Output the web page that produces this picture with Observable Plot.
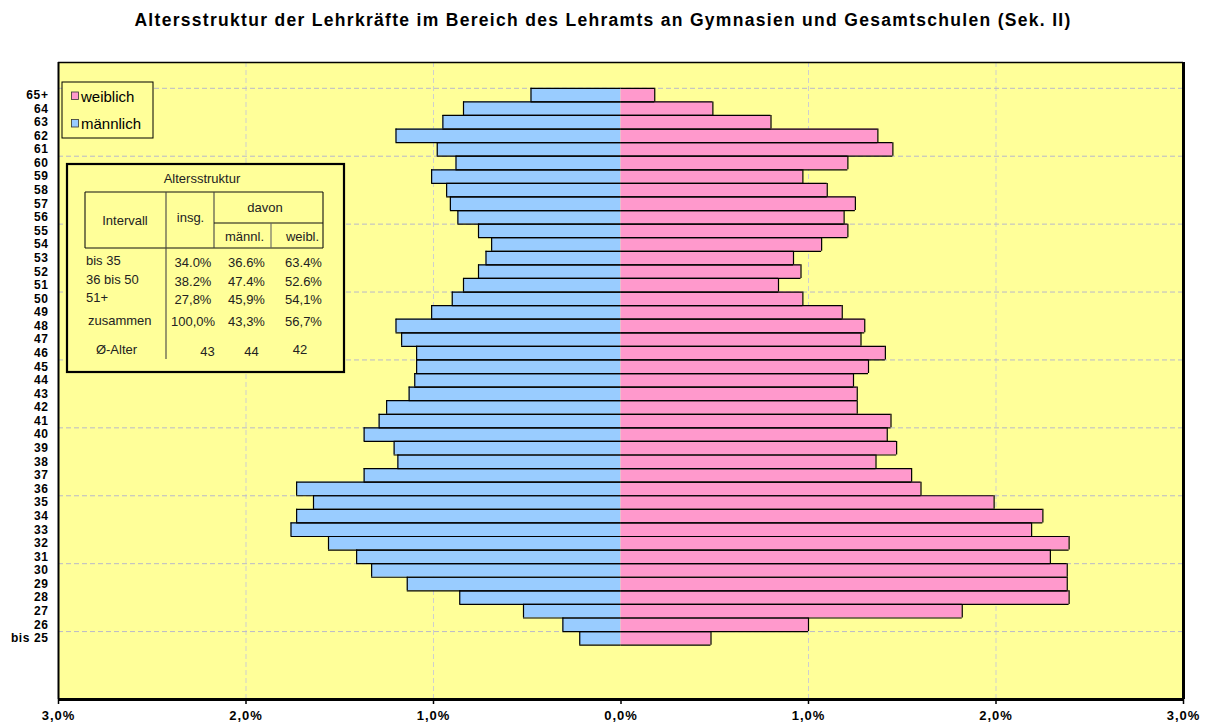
<!DOCTYPE html>
<html>
<head>
<meta charset="utf-8">
<script src="https://cdn.jsdelivr.net/npm/d3@7"></script>
<script src="https://cdn.jsdelivr.net/npm/@observablehq/plot@0.6"></script>
<style>
  body { margin: 0; background: #fff; font-family: Arial, "Liberation Sans", sans-serif; }
  #wrap { position: relative; width: 1206px; height: 724px; overflow: hidden; }
  #title { position: absolute; left: 0; top: 0; width: 1206px; height: 40px; line-height: 40px;
           text-align: center; font-weight: bold; font-size: 17.5px; letter-spacing: 1.3px; color: #000; }
  #chart { position: absolute; left: 0; top: 40px; }
</style>
</head>
<body>
<div id="wrap">
  <div id="title">Altersstruktur der Lehrkräfte im Bereich des Lehramts an Gymnasien und Gesamtschulen (Sek. II)</div>
  <div id="chart"></div>
</div>
<script>
// ---- Data (youngest first) ----
const ageLabels = ["bis 25","26","27","28","29","30","31","32","33","34","35","36","37","38","39","40",
  "41","42","43","44","45","46","47","48","49","50","51","52","53","54","55","56","57","58","59","60",
  "61","62","63","64","65+"];
// share of all teachers, in percent
const maleValues = [0.22,0.31,0.52,0.86,1.14,1.33,1.41,1.56,1.76,1.73,1.64,1.73,1.37,1.19,1.21,1.37,
  1.29,1.25,1.13,1.10,1.09,1.09,1.17,1.20,1.01,0.90,0.84,0.76,0.72,0.69,0.76,0.87,0.91,0.93,1.01,0.88,
  0.98,1.20,0.95,0.84,0.48];
const femaleValues = [0.48,1.00,1.82,2.39,2.38,2.38,2.29,2.39,2.19,2.25,1.99,1.60,1.55,1.36,1.47,1.42,
  1.44,1.26,1.26,1.24,1.32,1.41,1.28,1.30,1.18,0.97,0.84,0.96,0.92,1.07,1.21,1.19,1.25,1.10,0.97,1.21,
  1.45,1.37,0.80,0.49,0.18];
const xTicks = [-3,-2,-1,0,1,2,3];
const xGrid = [-2,-1,1,2];
const xDomain = [-3, 3];
const yDomain = [-4.5, 42.4];

const legendLabels = ["weiblich", "männlich"];
const tableTitle = "Altersstruktur";
const tableHeaders = ["Intervall", "insg.", "davon", "männl.", "weibl."];
const tableRowLabels = ["bis 35", "36 bis 50", "51+", "zusammen", "Ø-Alter"];
const tableInsg = ["34.0%", "38.2%", "27,8%", "100,0%", "43"];
const tableMaennl = ["36.6%", "47.4%", "45,9%", "43,3%", "44"];
const tableWeibl = ["63.4%", "52.6%", "54,1%", "56,7%", "42"];

const colors = { bg: "#FFFF99", male: "#99CCFF", female: "#FF99CC" };

const rows = ageLabels.map((label, i) => ({ label, pos: i, male: maleValues[i], female: femaleValues[i] }));
const hGrid = d3.range(0.5, ageLabels.length, 5);
const fmtPct = d => Math.abs(d).toFixed(1).replace(".", ",") + "%";

const edgeStyle = { stroke: "#000", strokeWidth: 1.2 };

const chart = Plot.plot({
  width: 1206,
  height: 684,
  marginTop: 22,
  marginBottom: 25,
  marginLeft: 58,
  marginRight: 23,
  style: { fontFamily: 'Arial, "Liberation Sans", sans-serif', background: "transparent" },
  x: { domain: xDomain },
  y: { domain: yDomain },
  marks: [
    Plot.frame({ fill: colors.bg }),
    Plot.ruleX(xGrid, { stroke: "#cfcfcf", strokeDasharray: "5,3", strokeWidth: 1 }),
    Plot.ruleY(hGrid, { stroke: "#b9b9c9", strokeDasharray: "5,3", strokeWidth: 1 }),
    // bars
    Plot.rect(rows, { x1: d => -d.male, x2: d => 0, y1: d => d.pos - 0.5, y2: d => d.pos + 0.5, fill: colors.male }),
    Plot.rect(rows, { x1: d => 0, x2: d => d.female, y1: d => d.pos - 0.5, y2: d => d.pos + 0.5, fill: colors.female }),
    // bar outlines (no line at the centre)
    Plot.ruleY(rows, { y: d => d.pos + 0.5, x1: d => -d.male, x2: d => 0, ...edgeStyle }),
    Plot.ruleY(rows, { y: d => d.pos - 0.5, x1: d => -d.male, x2: d => 0, ...edgeStyle }),
    Plot.ruleX(rows, { x: d => -d.male, y1: d => d.pos - 0.5, y2: d => d.pos + 0.5, ...edgeStyle }),
    Plot.ruleY(rows, { y: d => d.pos + 0.5, x1: d => 0, x2: d => d.female, ...edgeStyle }),
    Plot.ruleY(rows, { y: d => d.pos - 0.5, x1: d => 0, x2: d => d.female, ...edgeStyle }),
    Plot.ruleX(rows, { x: d => d.female, y1: d => d.pos - 0.5, y2: d => d.pos + 0.5, ...edgeStyle }),
    // plot border
    Plot.ruleY([yDomain[1]], { stroke: "#000", strokeWidth: 1.5 }),
    Plot.ruleX([xDomain[0]], { stroke: "#000", strokeWidth: 2 }),
    Plot.ruleX([xDomain[1]], { stroke: "#000", strokeWidth: 3 }),
    Plot.ruleY([yDomain[0]], { stroke: "#000", strokeWidth: 3 }),
    // axes
    Plot.axisX({ ticks: xTicks, tickFormat: fmtPct, tickSize: 5, tickPadding: 6, fontSize: 13,
      fontWeight: "bold", label: null, stroke: "#000", strokeWidth: 1.5 }),
    Plot.axisY({ ticks: d3.range(ageLabels.length), tickFormat: i => ageLabels[i], tickSize: 0,
      tickPadding: 10, fontSize: 12, fontWeight: "bold", label: null })
  ]
});
document.getElementById("chart").append(chart);

const svg = d3.select(chart);
svg.selectAll('g[aria-label="x-axis tick label"] text').attr("letter-spacing", "1px");
svg.selectAll('g[aria-label="y-axis tick label"] text').attr("letter-spacing", "0.6px");

// ---- Legend and summary table (annotations inside the plot area) ----
const OY = 40; // page offset of the svg
const g = svg.append("g").attr("font-family", 'Arial, "Liberation Sans", sans-serif')
  .attr("text-anchor", "start");

// legend
const lg = g.append("g");
lg.append("rect").attr("x", 62).attr("y", 82 - OY).attr("width", 91).attr("height", 56)
  .attr("fill", colors.bg).attr("stroke", "#000").attr("stroke-width", 1);
[colors.female, colors.male].forEach((c, i) => {
  const yy = 92 - OY + i * 27.5;
  lg.append("rect").attr("x", 71.5).attr("y", yy).attr("width", 7).attr("height", 7.5)
    .attr("fill", c).attr("stroke", "#333").attr("stroke-width", 0.8);
  lg.append("text").attr("x", 81).attr("y", yy + 9.5).attr("font-size", 15).attr("fill", "#000")
    .attr("text-anchor", "start").text(legendLabels[i]);
});

// table
const tg = g.append("g").attr("fill", "#222");
tg.append("rect").attr("x", 67).attr("y", 164 - OY).attr("width", 277).attr("height", 208)
  .attr("fill", colors.bg).attr("stroke", "#000").attr("stroke-width", 2.2);
const line = (x1, y1, x2, y2, c = "#111") => tg.append("line")
  .attr("x1", x1).attr("y1", y1 - OY).attr("x2", x2).attr("y2", y2 - OY)
  .attr("stroke", c).attr("stroke-width", 1.1);
line(85, 192, 323, 192); line(85, 248, 323, 248);
line(85, 192, 85, 248); line(323, 192, 323, 248);
line(166, 192, 166, 359, "#444");
line(214, 192, 214, 248, "#444");
line(214, 223, 323, 223);
line(271, 223, 271, 248, "#666");
const txt = (x, y, s, anchor = "start", size = 13) => tg.append("text")
  .attr("x", x).attr("y", y - OY).attr("text-anchor", anchor).attr("font-size", size).text(s);
txt(202, 183, tableTitle, "middle");
txt(125, 225, tableHeaders[0], "middle");
txt(190.5, 222, tableHeaders[1], "middle");
txt(265, 212, tableHeaders[2], "middle");
txt(244.5, 241, tableHeaders[3], "middle");
txt(302.5, 241, tableHeaders[4], "middle");
const rowY = [266.5, 285.5, 303.5, 326, 355.5];
const labelX = [86, 86, 86, 88, 116.5];
tableRowLabels.forEach((s, i) => {
  txt(labelX[i], rowY[i] - 1.5, s, i === 4 ? "middle" : "start");
  txt(i === 4 ? 207.5 : 193, rowY[i], tableInsg[i], "middle");
  txt(i === 4 ? 251.5 : 246.5, rowY[i], tableMaennl[i], "middle");
  txt(i === 4 ? 300 : 303.5, rowY[i] - (i === 4 ? 2 : 0), tableWeibl[i], "middle");
});
</script>
</body>
</html>
